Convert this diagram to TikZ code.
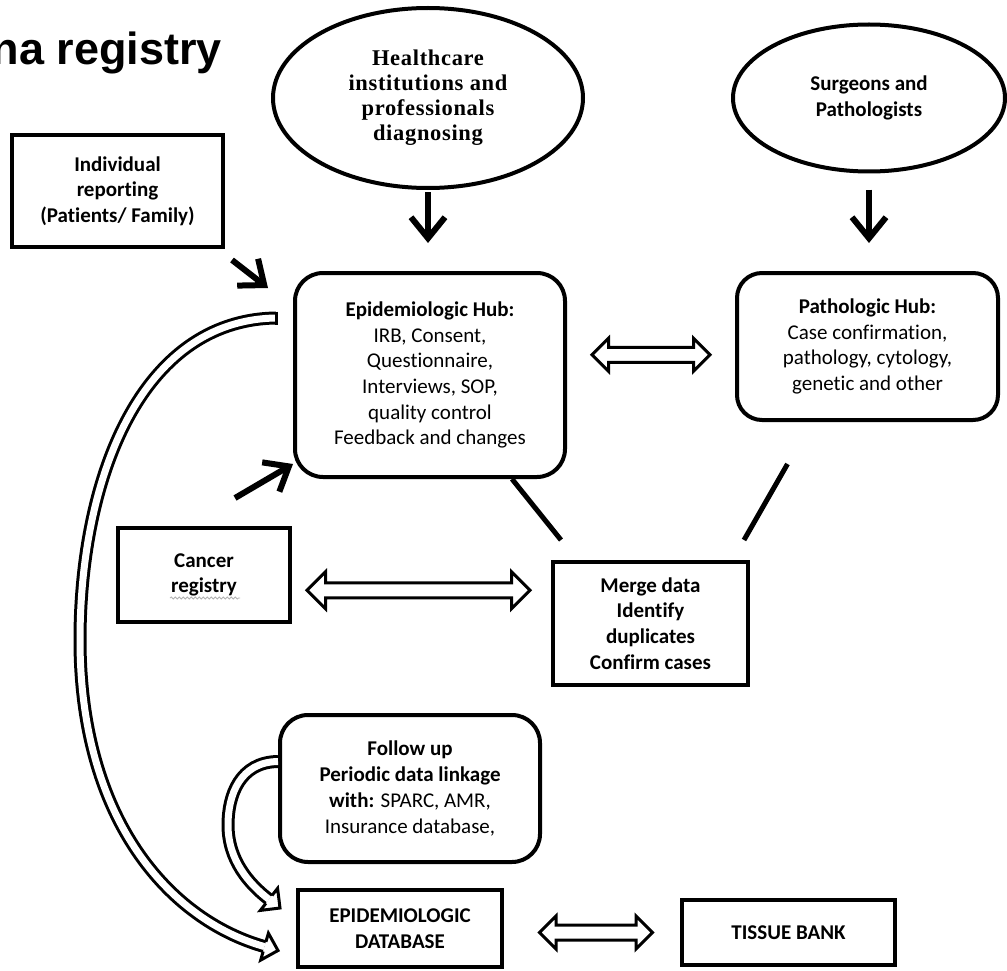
\documentclass[tikz,border=0pt]{standalone}
\usepackage{fontspec}
\setmainfont{Carlito}[Ligatures={NoCommon}]
\newfontfamily\titlefont{Liberation Sans}
\newfontfamily\camfont{Liberation Serif}[LetterSpace=3]
\usetikzlibrary{arrows.meta,positioning,calc,shapes.geometric,shapes.arrows,decorations.pathmorphing}

\newcommand{\reg}{\mdseries}

\begin{document}
\begin{tikzpicture}[x=1pt,y=-1pt,
  every node/.style={align=center,font=\fontsize{21}{25.7}\selectfont\bfseries,inner sep=0pt},
  box/.style={draw,line width=4pt,rectangle},
  hub/.style={box,rounded corners=28pt},
  oval/.style={draw,line width=4pt,ellipse},
  arr/.style={line width=6pt,-{Straight Barb[length=21pt,width=34pt]}},
  link/.style={line width=5pt},
  dblarr/.style={double arrow,draw,line width=3pt,inner xsep=0pt,inner ysep=6pt,double arrow head extend=9pt},
  loop/.style={line width=3pt,double distance=7pt},
  loophead/.style={line width=3pt,fill=white,line join=miter}]
\useasboundingbox (0,0) rectangle (1007,971);
\fill[white] (0,0) rectangle (1007,971);

\node[font=\titlefont\bfseries\fontsize{45}{50}\selectfont,anchor=base east] (title) at (222,65) {na registry};

% sources
\node[oval,minimum width=310pt,minimum height=180pt,font=\camfont\bfseries\fontsize{22.5}{25}\selectfont] (health) at (428,98) {Healthcare\\institutions and\\professionals\\diagnosing};
\node[oval,minimum width=272pt,minimum height=147pt] (surg) at (869,98) {Surgeons and\\Pathologists};
\node[box,minimum width=211pt,minimum height=112pt] (indiv) at (117.5,191) {Individual\\reporting\\(Patients/ Family)};

% hubs
\node[hub,minimum width=270pt,minimum height=204pt] (epihub) at (430,375) {Epidemiologic Hub:\\\reg IRB, Consent,\\\reg Questionnaire,\\\reg Interviews, SOP,\\\reg quality control\\\reg Feedback and changes};
\node[hub,rounded corners=25pt,minimum width=261pt,minimum height=147pt] (pathhub) at (867.5,346.5) {Pathologic Hub:\\\reg Case confirmation,\\\reg pathology, cytology,\\\reg genetic and other};

\node[box,minimum width=172pt,minimum height=94pt] (cancer) at (204,575) {Cancer\\registry};
\node[box,minimum width=195pt,minimum height=123pt] (merge) at (650.5,623.5) {Merge data\\Identify\\duplicates\\Confirm cases};
\node[hub,minimum width=260pt,minimum height=147pt] (follow) at (410,788.5) {Follow up\\Periodic data linkage\\with: {\reg SPARC, AMR,}\\\reg Insurance database,};
\node[box,minimum width=204pt,minimum height=77pt] (epidb) at (400,928.5) {EPIDEMIOLOGIC\\DATABASE};
\node[box,minimum width=213pt,minimum height=65pt] (tissue) at (788.5,932.5) {TISSUE BANK};

\draw[gray!60,line width=0.8pt,decorate,decoration={snake,amplitude=1pt,segment length=4pt}] ($(cancer)+(-34,23)$) -- ($(cancer)+(36,23)$);

% arrows in
\draw[arr,shorten <=2pt,shorten >=28pt] (health.south) -- (health.south |- epihub.north);
\draw[arr,shorten <=16pt,shorten >=28pt] (surg.south) -- (surg.south |- pathhub.north);
\draw[arr] ($(indiv.south east)+(7,11)$) -- ($(epihub.north west)+(-25,17)$);
\draw[arr] ($(cancer.north east)+(-57,-28)$) -- ($(epihub.south west)+(0,-15)$);

% links to merge
\draw[link] ($(epihub.south)+(82,0)$) -- ($(merge.north west)+(10,-20)$);
\draw[link] ($(pathhub.south)+(-80,42)$) -- ($(merge.north east)+(-6,-20)$);

% two-way arrows
\node[dblarr,minimum height=118pt] (hubarrow) at ($(epihub.east)!0.5!(pathhub.west)+(0,-6)$) {};
\node[dblarr,minimum height=223pt,double arrow head extend=11pt] (regarrow) at ($(cancer.east)!0.5!(merge.west)+(-3,-9)$) {};
\node[dblarr,minimum height=113pt] (dbarrow) at ($(epidb.east)!0.5!(tissue.west)+(4,2)$) {};

% loops into the database
\coordinate (bigtail) at ($(epihub.west)+(-17,-57)$);
\coordinate (bigtip) at ($(epidb.west)+(-18,22)$);
\draw[loop] (bigtail) .. controls (140,320) and (80,480) .. (80,640) .. controls (80,820) and (170,920) .. ($(bigtip)+(-13.5,-3.9)$);
\draw[line width=3pt] ($(bigtail)+(0,-6.5)$) -- ($(bigtail)+(0,6.5)$);
\draw[loophead,shift={(bigtip)},rotate=-16] (-14,5) -- (-14,14) -- (0,0) -- (-14,-14) -- (-14,-5);

\coordinate (smalltail) at ($(follow.west)+(0,-27)$);
\coordinate (smalltip) at ($(epidb.north west)+(-16,20)$);
\draw[loop] (smalltail) .. controls (240,762) and (228,795) .. (228,825) .. controls (228,860) and (249,884) .. ($(smalltip)+(-11,-8.6)$);
\draw[loophead,shift={(smalltip)},rotate=-38] (-14,5) -- (-14,14) -- (0,0) -- (-14,-14) -- (-14,-5);
\end{tikzpicture}
\end{document}
